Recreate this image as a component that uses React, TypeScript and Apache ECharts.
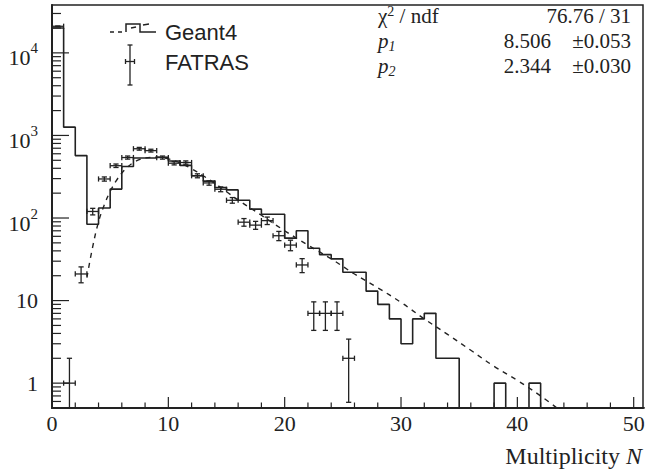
import React, { useEffect, useRef } from 'react';
import * as echarts from 'echarts';

// Axis ranges
const X_MIN = 0;
const X_MAX = 50.8;
const Y_MIN = 0.5;
const Y_MAX = 38000;
const BIN_HALF = 0.5;

// Geant4 histogram: counts in unit bins [N, N+1), N = 0..50
const geantCounts = [
  20000, 1260, 570, 84, 132, 224, 420, 534, 534, 545,
  491, 434, 325, 280, 234, 219, 164, 128, 111, 111,
  57, 70, 43, 36, 32, 22, 22, 13, 9, 6,
  3, 6, 7, 2, 2, 0, 0, 0, 1, 0,
  0, 1, 0, 0, 0, 0, 0, 0, 0, 0,
  0,
];

// FATRAS points: bin centres and counts (Poisson errors)
const fatrasN = [
  0.5, 1.5, 2.5, 3.5, 4.5, 5.5, 6.5, 7.5, 8.5, 9.5,
  10.5, 11.5, 12.5, 13.5, 14.5, 15.5, 16.5, 17.5, 18.5, 19.5,
  20.5, 21.5, 22.5, 23.5, 24.5, 25.5,
];
const fatrasCounts = [
  21000, 1, 21, 120, 297, 430, 540, 690, 655, 540,
  461, 470, 325, 266, 223, 164, 89, 82, 93, 61,
  47, 27, 7, 7, 7, 2,
];

// Fitted function (dashed curve)
const fitN = [
  3, 3.5, 4, 4.5, 5, 5.5, 6, 6.5, 7, 7.5, 8, 9, 10, 11, 12, 13, 14, 15, 16,
  18, 20, 22, 24, 26, 28, 30, 32, 34, 36, 38, 40, 42, 43.4,
];
const fitValues = [
  19, 45, 90, 145, 210, 280, 350, 415, 470, 510, 535, 545, 520, 465, 395, 325, 262, 208, 165,
  108, 70, 47, 32, 21, 14.3, 9.5, 6.0, 3.9, 2.5, 1.6, 1.08, 0.7, 0.5,
];

// Tick marks
const xMajorTicks = [0, 10, 20, 30, 40, 50];
const xMinorTicks = [2, 4, 6, 8, 12, 14, 16, 18, 22, 24, 26, 28, 32, 34, 36, 38, 42, 44, 46, 48];
const yMajorTicks = [1, 10, 100, 1000, 10000];
const yMinorTicks: number[] = [];
for (const m of [0.6, 0.7, 0.8, 0.9]) yMinorTicks.push(m);
for (let e = 0; e <= 4; e++) {
  for (let m = 2; m <= 9; m++) {
    const v = m * Math.pow(10, e);
    if (v < Y_MAX) yMinorTicks.push(v);
  }
}

// Stats box
const statRows = [
  { label: '{a|χ}{s|2}{a| / ndf}', value: '', error: '76.76 / 31' },
  { label: '{i|p}{sb|1}', value: '8.506', error: '±0.053' },
  { label: '{i|p}{sb|2}', value: '2.344', error: '±0.030' },
];

const INK = '#222';
const SERIF = '"Liberation Serif", "Times New Roman", serif';
const SANS = '"Liberation Sans", Arial, sans-serif';

function seg(x1: number, y1: number, x2: number, y2: number, w = 1.3) {
  return { type: 'line', shape: { x1, y1, x2, y2 }, style: { stroke: INK, lineWidth: w } };
}

export default function App() {
  const ref = useRef<HTMLDivElement>(null);

  useEffect(() => {
    if (!ref.current) return;
    const chart = echarts.init(ref.current, null, { renderer: 'svg' });

    const geantData: number[][] = geantCounts.map((c, i) => [i, c > 0 ? c : Y_MIN]);
    geantData.push([geantCounts.length, geantCounts[geantCounts.length - 1] > 0 ? geantCounts[geantCounts.length - 1] : Y_MIN]);

    const fatrasData = fatrasN
      .map((n, i) => [n, fatrasCounts[i]])
      .filter((d) => d[1] > 0);

    const tickData = [
      ...xMajorTicks.map((v) => [v, 1, 1, 0]),
      ...xMinorTicks.map((v) => [v, 1, 0, 0]),
      ...yMajorTicks.map((v) => [0, v, 1, 1]),
      ...yMinorTicks.map((v) => [0, v, 0, 1]),
    ];

    const serifStyle = { fontFamily: SERIF, fontSize: 22, color: INK };

    const graphic: any[] = [
      // Geant4 legend key: step outline with the dashed fit line
      {
        type: 'polyline',
        shape: { points: [[126, 32], [126, 24], [140, 24], [140, 32], [156, 32]] },
        style: { stroke: INK, lineWidth: 1.5, fill: null },
      },
      { type: 'line', shape: { x1: 110, y1: 32, x2: 124, y2: 32 }, style: { stroke: INK, lineWidth: 1.5, lineDash: [4, 4] } },
      { type: 'line', shape: { x1: 131, y1: 28, x2: 136, y2: 27 }, style: { stroke: INK, lineWidth: 1.3 } },
      { type: 'line', shape: { x1: 143, y1: 25, x2: 149, y2: 24 }, style: { stroke: INK, lineWidth: 1.3 } },
      {
        type: 'text', x: 165, y: 32,
        style: { text: 'Geant4', font: `22px ${SANS}`, fill: INK, align: 'left', verticalAlign: 'middle' },
      },
      // FATRAS legend key: error-bar cross
      seg(130, 45, 130, 85),
      seg(127.5, 45, 132.5, 45),
      seg(127.5, 85, 132.5, 85),
      seg(125.5, 61.5, 134.5, 61.5),
      seg(125.5, 59, 125.5, 64),
      seg(134.5, 59, 134.5, 64),
      {
        type: 'text', x: 165, y: 62,
        style: { text: 'FATRAS', font: `22px ${SANS}`, fill: INK, align: 'left', verticalAlign: 'middle' },
      },
      // Axis title
      {
        type: 'text', x: 642, y: 456,
        style: {
          text: '{r|Multiplicity }{i|N}',
          align: 'right', verticalAlign: 'middle',
          rich: {
            r: { fontFamily: SERIF, fontSize: 24, fill: INK },
            i: { fontFamily: SERIF, fontSize: 24, fontStyle: 'italic', fill: INK },
          },
        },
      },
    ];

    statRows.forEach((row, k) => {
      const y = 16 + k * 25;
      graphic.push({
        type: 'text', x: 378, y,
        style: {
          text: row.label, align: 'left', verticalAlign: 'middle',
          rich: {
            a: { fontFamily: SERIF, fontSize: 21, lineHeight: 21, fill: INK },
            s: { fontFamily: SERIF, fontSize: 14, lineHeight: 14, padding: [0, 0, 10, 0], fill: INK },
            i: { fontFamily: SERIF, fontSize: 21, lineHeight: 21, fontStyle: 'italic', fill: INK },
            sb: { fontFamily: SERIF, fontSize: 14, lineHeight: 14, fontStyle: 'italic', padding: [10, 0, 0, 0], fill: INK },
          },
        },
      });
      if (row.value) {
        graphic.push({
          type: 'text', x: 551, y,
          style: { text: row.value, font: `21px ${SERIF}`, fill: INK, align: 'right', verticalAlign: 'middle' },
        });
      }
      graphic.push({
        type: 'text', x: 631, y,
        style: { text: row.error, font: `21px ${SERIF}`, fill: INK, align: 'right', verticalAlign: 'middle' },
      });
    });

    const option: any = {
      animation: false,
      backgroundColor: '#fff',
      grid: {
        left: 52, right: 5, top: 5, bottom: 62,
        show: true, borderColor: INK, borderWidth: 1.5, backgroundColor: 'transparent',
      },
      xAxis: {
        type: 'value', min: X_MIN, max: X_MAX, interval: 10,
        axisLine: { show: true, onZero: false, lineStyle: { color: INK, width: 2 } },
        axisTick: { show: false },
        splitLine: { show: false },
        axisLabel: {
          ...serifStyle,
          margin: 4,
          formatter: (v: number) => (Math.abs(v - Math.round(v / 10) * 10) < 1e-6 ? String(Math.round(v)) : ''),
        },
      },
      yAxis: {
        type: 'log', logBase: 10, min: Y_MIN, max: Y_MAX,
        axisLine: { show: true, onZero: false, lineStyle: { color: INK, width: 2 } },
        axisTick: { show: false },
        splitLine: { show: false },
        axisLabel: {
          ...serifStyle,
          margin: 14,
          formatter: (v: number) => {
            const e = Math.log10(v);
            const r = Math.round(e);
            if (Math.abs(e - r) > 1e-6) return '';
            if (r === 0) return '1';
            if (r === 1) return '10';
            return `{b|10}{s|${r}}`;
          },
          rich: {
            b: { fontFamily: SERIF, fontSize: 22, lineHeight: 22, padding: [10, 0, 0, 0], color: INK },
            s: { fontFamily: SERIF, fontSize: 15, lineHeight: 15, padding: [0, 0, 9, 0], color: INK },
          },
        },
      },
      graphic,
      series: [
        {
          name: 'Geant4',
          type: 'line',
          step: 'end',
          data: geantData,
          symbol: 'none',
          clip: true,
          silent: true,
          lineStyle: { color: INK, width: 1.6 },
          z: 3,
        },
        {
          name: 'fit',
          type: 'line',
          data: fitN.map((n, i) => [n, fitValues[i]]),
          smooth: 0.4,
          symbol: 'none',
          clip: true,
          silent: true,
          lineStyle: { color: INK, width: 1.4, type: [5, 5] },
          z: 4,
        },
        {
          name: 'FATRAS',
          type: 'custom',
          data: fatrasData,
          clip: true,
          silent: true,
          z: 5,
          renderItem: (_p: any, api: any) => {
            const n = api.value(0);
            const c = api.value(1);
            const err = Math.sqrt(c);
            const hi = c + err;
            const lo = Math.max(c - err, Y_MIN);
            const pc = api.coord([n, c]);
            const pl = api.coord([n - BIN_HALF, c]);
            const pr = api.coord([n + BIN_HALF, c]);
            const pt = api.coord([n, hi]);
            const pb = api.coord([n, lo]);
            const cap = 2.6;
            const children: any[] = [
              seg(pt[0], pt[1], pb[0], pb[1]),
              seg(pl[0], pc[1], pr[0], pc[1]),
              seg(pt[0] - cap, pt[1], pt[0] + cap, pt[1]),
              seg(pl[0], pc[1] - cap, pl[0], pc[1] + cap),
              seg(pr[0], pc[1] - cap, pr[0], pc[1] + cap),
            ];
            if (c - err > Y_MIN) children.push(seg(pb[0] - cap, pb[1], pb[0] + cap, pb[1]));
            return { type: 'group', children };
          },
        },
        {
          name: 'ticks',
          type: 'custom',
          data: tickData,
          silent: true,
          clip: false,
          z: 6,
          renderItem: (_p: any, api: any) => {
            const major = api.value(2) === 1;
            const onY = api.value(3) === 1;
            if (onY) {
              const p = api.coord([X_MIN, api.value(1)]);
              const len = major ? 17 : 9;
              return seg(p[0], p[1], p[0] + len, p[1], 1.2);
            }
            const p = api.coord([api.value(0), Y_MIN]);
            const len = major ? 11 : 5.5;
            return seg(p[0], p[1], p[0], p[1] - len, 1.2);
          },
        },
      ],
    };

    chart.setOption(option);
    return () => chart.dispose();
  }, []);

  return (
    <div
      ref={ref}
      style={{ position: 'fixed', left: 0, top: 0, width: 648, height: 470, background: '#fff' }}
    />
  );
}
